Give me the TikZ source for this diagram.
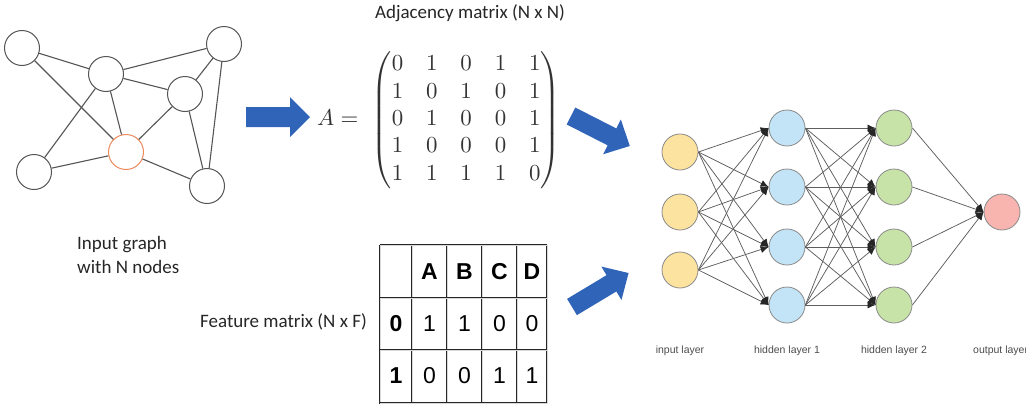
\documentclass[tikz,border=0pt]{standalone}
\usepackage{amsmath}
\usepackage{graphicx}
\usepackage{fontspec}
\setmainfont{Carlito}
\newfontfamily\arialfont{Liberation Sans}
\usetikzlibrary{arrows.meta}
\definecolor{edgegray}{HTML}{555555}
\definecolor{nngray}{HTML}{5E5E5E}
\definecolor{orangec}{HTML}{EE8A5C}
\definecolor{arrowblue}{HTML}{2F64B9}
\definecolor{yel}{HTML}{FDE3A0}
\definecolor{blu}{HTML}{C2E4F6}
\definecolor{grn}{HTML}{C8E3A8}
\definecolor{redc}{HTML}{F8B5AF}
\definecolor{strk}{HTML}{8A8A8A}
\tikzset{
  gnode/.style={circle, draw=edgegray, line width=1pt, minimum size=35pt, inner sep=0pt, fill=white},
  gedge/.style={draw=edgegray, line width=1.1pt},
  lbl/.style={font=\fontsize{19}{24}\selectfont, text=black!85, inner sep=0pt},
  blockarrow/.style={fill=arrowblue},
  nnode/.style={circle, draw=strk, line width=0.8pt, minimum size=36pt, inner sep=0pt},
  nnedge/.style={draw=nngray, line width=0.75pt, -{Latex[length=8pt,width=7pt,color=black!85]}},
  layerlbl/.style={font=\arialfont\fontsize{10.5}{12}\selectfont, text=black!70, inner sep=0pt},
  tcell/.style={font=\arialfont\fontsize{23}{26}\selectfont, inner sep=0pt},
  tbold/.style={font=\arialfont\bfseries\fontsize{23}{26}\selectfont, inner sep=0pt},
  tline/.style={draw=black!85, line width=0.7pt, double=black!15, double distance=0.6pt}
}
\begin{document}
\begin{tikzpicture}[x=1pt,y=-1pt]
\useasboundingbox (0,0) rectangle (1026,405);
\clip (0,0) rectangle (1026,405);

% ---- input graph ----
\node[gnode] (g1) at (22,48) {};
\node[gnode] (g2) at (106,74) {};
\node[gnode] (g3) at (224,44) {};
\node[gnode] (g4) at (185,94) {};
\node[gnode] (g5) at (34,172) {};
\node[gnode, draw=orangec] (g6) at (126,152) {};
\node[gnode] (g7) at (207,186) {};
\draw[gedge] (g1) -- (g2);
\draw[gedge] (g1) -- (g6);
\draw[gedge] (g2) -- (g3);
\draw[gedge] (g2) -- (g4);
\draw[gedge] (g2) -- (g5);
\draw[gedge] (g2) -- (g6);
\draw[gedge] (g3) -- (g4);
\draw[gedge] (g3) -- (g7);
\draw[gedge] (g4) -- (g6);
\draw[gedge] (g4) -- (g7);
\draw[gedge] (g5) -- (g6);
\draw[gedge] (g6) -- (g7);

\node[lbl, anchor=west, align=left] (glabel) at (77,255) {Input graph\\with N nodes};

% ---- adjacency ----
\node[lbl] (adjt) at (470,13) {Adjacency matrix (N x N)};
\node[anchor=west, inner sep=0pt, text=black!80] (amat) at (317,120) {\scalebox{2.29}{%
  $A=\hspace{3pt}\begin{pmatrix}
  0&1&0&1&1\\
  1&0&1&0&1\\
  0&1&0&0&1\\
  1&0&0&0&1\\
  1&1&1&1&0
  \end{pmatrix}$}};

% ---- feature matrix ----
\node[lbl, anchor=east] (ftitle) at (367,322) {Feature matrix (N x F)};
\foreach \x in {380,412,447,482,517,547} \draw[tline] (\x,245) -- (\x,404);
\foreach \y in {245,298,350,403} \draw[tline] (380,\y) -- (547,\y);
\node[tbold] (hA) at (429.5,272) {A};
\node[tbold] (hB) at (464.5,272) {B};
\node[tbold] (hC) at (499.5,272) {C};
\node[tbold] (hD) at (532,272) {D};
\node[tbold] (r0) at (396,324) {0};
\node[tcell] (c01) at (429.5,324) {1};
\node[tcell] (c02) at (464.5,324) {1};
\node[tcell] (c03) at (499.5,324) {0};
\node[tcell] (c04) at (532,324) {0};
\node[tbold] (r1) at (396,376) {1};
\node[tcell] (c11) at (429.5,376) {0};
\node[tcell] (c12) at (464.5,376) {0};
\node[tcell] (c13) at (499.5,376) {1};
\node[tcell] (c14) at (532,376) {1};

% ---- block arrows ----
\fill[blockarrow] (246,107) -- (290,107) -- (290,97) -- (310,117) -- (290,137) -- (290,127) -- (246,127) -- cycle;
\begin{scope}[shift={(571,116)}, rotate=-27]
\fill[blockarrow] (0,-9.5) -- (46,-9.5) -- (46,-19.5) -- (66,0) -- (46,19.5) -- (46,9.5) -- (0,9.5) -- cycle;
\end{scope}
\begin{scope}[shift={(572,307)}, rotate=31]
\fill[blockarrow] (0,-9.5) -- (46,-9.5) -- (46,-19.5) -- (66,0) -- (46,19.5) -- (46,9.5) -- (0,9.5) -- cycle;
\end{scope}

% ---- neural network ----
\node[nnode, fill=yel] (i1) at (680,152) {};
\node[nnode, fill=yel] (i2) at (680,212) {};
\node[nnode, fill=yel] (i3) at (680,270) {};
\node[nnode, fill=blu] (h1) at (787,128) {};
\node[nnode, fill=blu] (h2) at (787,187) {};
\node[nnode, fill=blu] (h3) at (787,247) {};
\node[nnode, fill=blu] (h4) at (787,305) {};
\node[nnode, fill=grn] (k1) at (894,128) {};
\node[nnode, fill=grn] (k2) at (894,187) {};
\node[nnode, fill=grn] (k3) at (894,247) {};
\node[nnode, fill=grn] (k4) at (894,305) {};
\node[nnode, fill=redc] (o1) at (1002,212) {};
\foreach \a in {1,2,3} \foreach \b in {1,2,3,4} \draw[nnedge] (i\a.east) -- (h\b.west);
\foreach \a in {1,2,3,4} \foreach \b in {1,2,3,4} \draw[nnedge] (h\a.east) -- (k\b.west);
\foreach \a in {1,2,3,4} \draw[nnedge] (k\a.east) -- (o1.west);

\node[layerlbl] (l1) at (680,351) {input layer};
\node[layerlbl] (l2) at (787,351) {hidden layer 1};
\node[layerlbl] (l3) at (894,351) {hidden layer 2};
\node[layerlbl, anchor=west] (l4) at (973,351) {output layer};
\end{tikzpicture}
\end{document}
